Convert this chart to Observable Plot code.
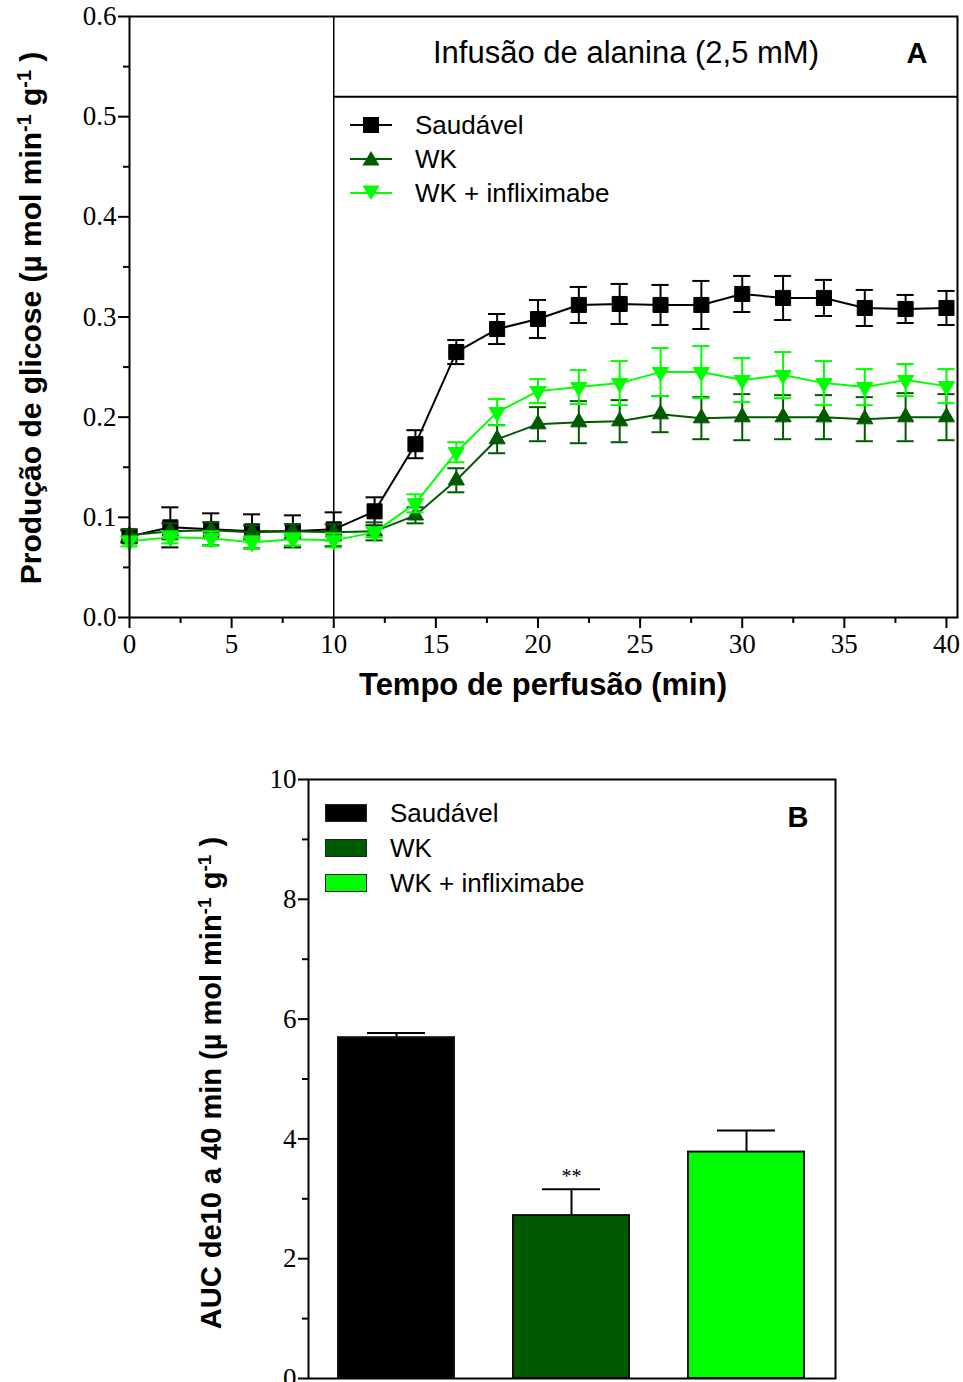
<!DOCTYPE html>
<html><head><meta charset="utf-8">
<script src="https://cdn.jsdelivr.net/npm/d3@7"></script>
<script src="https://cdn.jsdelivr.net/npm/@observablehq/plot@0.6"></script>
<style>
body{margin:0;width:963px;height:1382px;overflow:hidden;background:#fff;position:relative;font-family:"Liberation Sans",Arial,sans-serif;color:#000}
.abs{position:absolute;white-space:nowrap}
.c{transform:translate(-50%,-50%)}
.rot{transform:translate(-50%,-50%) rotate(-90deg)}
sup{font-size:0.66em;vertical-align:0.5em;line-height:0}
</style></head><body>
<div id="a" class="abs" style="left:0;top:0"></div>
<div id="b" class="abs" style="left:0;top:740px"></div>
<div id="overlay"></div>
<script>
// ---------- DATA (panel A) ----------
const time = [0,2,4,6,8,10,12,14,16,18,20,22,24,26,28,30,32,34,36,38,40];
const saudavel    = [0.081,0.090,0.088,0.086,0.086,0.088,0.106,0.173,0.265,0.288,0.298,0.312,0.313,0.312,0.312,0.323,0.319,0.319,0.309,0.308,0.309];
const saudavelSem = [0.006,0.020,0.016,0.017,0.016,0.017,0.014,0.014,0.012,0.015,0.019,0.018,0.020,0.020,0.024,0.018,0.022,0.018,0.018,0.014,0.017];
const wk          = [0.082,0.086,0.087,0.085,0.086,0.085,0.086,0.102,0.137,0.178,0.193,0.195,0.196,0.203,0.199,0.200,0.200,0.200,0.198,0.200,0.200];
const wkSem       = [0.006,0.008,0.008,0.007,0.007,0.008,0.009,0.008,0.012,0.014,0.017,0.021,0.021,0.018,0.021,0.023,0.022,0.022,0.022,0.024,0.023];
const wkInf       = [0.076,0.080,0.079,0.075,0.078,0.077,0.085,0.114,0.165,0.205,0.226,0.230,0.234,0.245,0.245,0.237,0.242,0.234,0.230,0.237,0.231];
const wkInfSem    = [0.005,0.006,0.007,0.006,0.006,0.007,0.005,0.009,0.010,0.013,0.012,0.017,0.022,0.024,0.026,0.022,0.023,0.022,0.018,0.016,0.017];
const seriesNames = ["Saudável","WK","WK + infliximabe"];
const seriesColors = ["#000000","#005a00","#00ff00"];
const xTicksA = [0,5,10,15,20,25,30,35,40];
const xMinorA = [2.5,7.5,12.5,17.5,22.5,27.5,32.5,37.5];
const yTicksA = [0,0.1,0.2,0.3,0.4,0.5,0.6];
const yMinorA = [0.05,0.15,0.25,0.35,0.45,0.55];
const infusionStart = 10;
const infusionBoxBottom = 0.52;
const xMaxA = 40.54;

// ---------- DATA (panel B) ----------
const groups = ["Saudável","WK","WK + infliximabe"];
const auc    = [5.69, 2.72, 3.78];
const aucSem = [0.08, 0.44, 0.36];
const aucSig = ["", "**", ""];
const yTicksB = [0,2,4,6,8,10];
const yMinorB = [1,3,5,7,9];

// ---------- PANEL A ----------
const rows = (vals, sems) => time.map((t,i)=>({t, v: vals[i], e: sems[i]}));
const cap = 0.42;
function seriesMarks(data, color, symbol, rotate, r) {
  return [
    Plot.ruleX(data, {x:"t", y1:d=>d.v-d.e, y2:d=>d.v+d.e, stroke:color, strokeWidth:2}),
    Plot.ruleY(data, {y:d=>d.v+d.e, x1:d=>d.t-cap, x2:d=>d.t+cap, stroke:color, strokeWidth:2}),
    Plot.ruleY(data, {y:d=>d.v-d.e, x1:d=>d.t-cap, x2:d=>d.t+cap, stroke:color, strokeWidth:2}),
    Plot.line(data, {x:"t", y:"v", stroke:color, strokeWidth:2}),
    Plot.dot(data, {x:"t", y:"v", symbol, r, fill:color, stroke:color, strokeWidth:1, rotate})
  ];
}
const tickFont = "'Liberation Serif', serif";
const chartA = Plot.plot({
  width:963, height:720, marginLeft:129, marginRight:6, marginTop:16, marginBottom:103,
  x:{domain:[0,xMaxA]}, y:{domain:[0,0.6]},
  style:{fontFamily:tickFont, fontSize:"27px", color:"black", background:"white", overflow:"visible"},
  marks:[
    Plot.axisY({ticks:yTicksA, tickSize:11, tickPadding:2, tickFormat:d3.format(".1f"), label:null, strokeWidth:2, fontSize:27}),
    Plot.axisY({ticks:yMinorA, tickSize:6, tickFormat:()=>"", label:null, strokeWidth:2}),
    Plot.axisX({ticks:xTicksA, tickSize:11, tickPadding:5, label:null, strokeWidth:2, fontSize:27}),
    Plot.axisX({ticks:xMinorA, tickSize:6, tickFormat:()=>"", label:null, strokeWidth:2}),
    Plot.ruleX([infusionStart], {stroke:"black", strokeWidth:1.5}),
    Plot.ruleY([infusionBoxBottom], {x1:infusionStart, x2:xMaxA, stroke:"black", strokeWidth:2}),
    ...seriesMarks(rows(saudavel, saudavelSem), seriesColors[0], "square", 0, 8.5),
    ...seriesMarks(rows(wk, wkSem), seriesColors[1], "triangle", 0, 6),
    ...seriesMarks(rows(wkInf, wkInfSem), seriesColors[2], "triangle", 180, 6),
    Plot.frame({stroke:"black", strokeWidth:2})
  ]
});
document.getElementById("a").append(chartA);

// ---------- PANEL B ----------
const barData = groups.map((g,i)=>({g, v:auc[i], e:aucSem[i], c:seriesColors[i], sig:aucSig[i]}));
const chartB = Plot.plot({
  width:963, height:678, marginLeft:308, marginRight:128, marginTop:39, marginBottom:40,
  x:{domain:groups, paddingInner:0.335, paddingOuter:0.165, axis:null},
  y:{domain:[0,10]},
  style:{fontFamily:tickFont, fontSize:"27px", color:"black", background:"white", overflow:"visible"},
  marks:[
    Plot.axisY({ticks:yTicksB, tickSize:10, tickPadding:2, label:null, strokeWidth:2, fontSize:27}),
    Plot.axisY({ticks:yMinorB, tickSize:6, tickFormat:()=>"", label:null, strokeWidth:2}),
    Plot.ruleX(barData, {x:"g", y1:"v", y2:d=>d.v+d.e, stroke:"black", strokeWidth:2}),
    Plot.tickY(barData, {x:"g", y:d=>d.v+d.e, stroke:"black", strokeWidth:2, insetLeft:29, insetRight:29}),
    Plot.barY(barData, {x:"g", y:"v", fill:"c", stroke:"#111", strokeWidth:2}),
    Plot.text(barData, {x:"g", y:d=>d.v+d.e, text:"sig", dy:-13, fontSize:20, fontFamily:tickFont}),
    Plot.frame({stroke:"black", strokeWidth:2})
  ]
});
document.getElementById("b").append(chartB);

// ---------- TEXT / LEGENDS ----------
const ov = document.getElementById("overlay");
function add(html, style, cls) {
  const d = document.createElement("div");
  d.className = "abs " + (cls||"");
  d.style.cssText = style;
  d.innerHTML = html;
  ov.append(d);
  return d;
}
const unit = "(&micro; mol min<sup>-1</sup> g<sup>-1</sup> )";
add("Produção de glicose " + unit, "left:31px;top:318px;font-size:30px;font-weight:bold", "rot");
add("Tempo de perfusão (min)", "left:543px;top:685px;font-size:31px;font-weight:bold", "c");
add("Infusão de alanina (2,5 mM)", "left:626px;top:53px;font-size:31px", "c");
add("A", "left:917px;top:53px;font-size:29px;font-weight:bold", "c");
add("AUC de10 a 40 min " + unit, "left:211px;top:1083px;font-size:29px;font-weight:bold", "rot");
add("B", "left:798px;top:817px;font-size:29px;font-weight:bold", "c");

// Legend A
const symA = [
  '<rect x="13" y="3" width="16" height="16" fill="#000"/>',
  '<path d="M21 3 L29.5 17.5 L12.5 17.5 Z" fill="#005a00"/>',
  '<path d="M21 18 L29.5 3.5 L12.5 3.5 Z" fill="#00ff00"/>'
];
[125,159,193].forEach((y,i)=>{
  add('<svg width="42" height="22"><line x1="0" x2="42" y1="11" y2="11" stroke="'+seriesColors[i]+'" stroke-width="2"/>'+symA[i]+'</svg>',
      "left:350px;top:"+(y-11)+"px;line-height:0");
  add(seriesNames[i], "left:415px;top:"+y+"px;font-size:26px;transform:translateY(-50%)");
});
// Legend B
[813,848,883].forEach((y,i)=>{
  add('', "left:325px;top:"+(y-9)+"px;width:40px;height:16px;background:"+seriesColors[i]+";border:1px solid #222");
  add(seriesNames[i], "left:390px;top:"+y+"px;font-size:26px;transform:translateY(-50%)");
});
</script>
</body></html>
